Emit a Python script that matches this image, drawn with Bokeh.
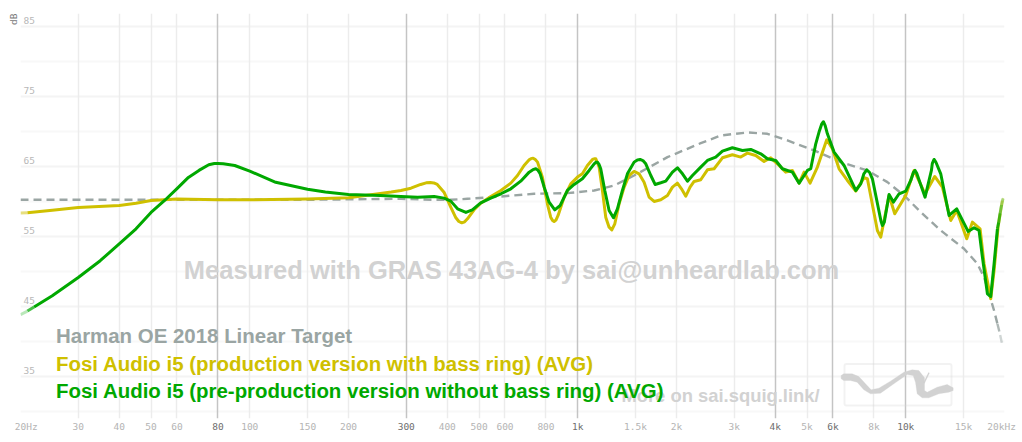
from bokeh.plotting import figure
from bokeh.models import LogAxis, FixedTicker, Grid, Label, BoxAnnotation, PolyAnnotation, Range1d, Title
from bokeh.core.properties import value
from bokeh.embed import file_html
from bokeh.resources import INLINE

# ---- data ----
target_hz = [20,40,80,150,289,365,410,461,583,736,930,1122,1291,1485,1877,2372,2729,3290,3786,4357,5253,6335,7639,8792,9882,11108,12784,15058,16535,17327,18588,19028,19400,19708]
target_db = [60.2,60.2,60.2,60.2,60.34,60.2,60.2,60.34,60.67,61.06,61.15,61.53,62.24,63.67,66.29,68.29,69.39,69.82,69.63,68.68,67.25,65.58,64.39,62.72,60.82,58.44,55.82,53.2,51.06,49.15,44.39,42.49,40.9,39.39]

yellow_hz = [20,21,25,30,40,45,50,60,80,100,150,200,250,270,289,310,332,345,355,364,373,391,410,425,434,443,452,461,483,506,543,583,625,655,686,711,720,731,742,754,780,808,827,838,847,858,871,909,952,998,1033,1070,1109,1122,1135,1162,1189,1217,1246,1270,1297,1337,1385,1434,1485,1538,1593,1650,1709,1791,1877,1944,2013,2071,2135,2200,2263,2371,2485,2604,2761,2961,3140,3290,3488,3698,3876,4061,4306,4512,4729,4897,5108,5378,5742,5975,6262,6639,7039,7463,7639,8194,8389,8894,9256,9998,10600,11452,12255,12933,13713,14302,15343,15964,16848,17327,18158,18588,19117,19400,19708,19900]
yellow_db = [58.3,58.35,58.7,59.1,59.4,59.7,60.1,60.3,60.2,60.2,60.3,60.5,61.1,61.3,61.53,61.86,62.39,62.62,62.67,62.6,62.39,61.29,59.15,57.63,57.1,56.91,57.05,57.48,58.77,59.72,60.67,61.53,62.58,63.67,65.1,65.91,66.08,66.15,65.95,65.58,63.44,59.63,57.72,57.25,57.1,57.3,57.96,60.58,62.48,63.44,63.91,65.1,65.96,66.06,66.06,64.86,61.53,57.72,56.29,55.91,56.77,59.63,62.01,63.67,64.25,63.91,62.72,60.58,59.96,60.2,60.82,62.01,62.58,61.77,60.72,62.01,62.82,63.06,64.48,64.63,66.2,66.63,66.3,66.87,66.53,65.68,66.2,65.34,64.15,64.39,62.58,64.15,62.58,64.87,68.77,67.49,64.63,62.96,61.44,63.34,63.2,55.82,54.87,60.82,58.2,60.82,64.39,61.06,63.53,62.01,57.25,58.68,54.63,57.01,56.06,51.06,46.06,50.1,56.3,58.2,60.1,60.4]

green_hz = [20,21,22,25,30,35,40,45,50,55,60,65,70,75,78,80,83,90,100,120,150,170,200,250,289,325,365,391,410,430,456,477,506,543,583,625,670,711,730,745,757,768,790,818,851,884,930,975,1033,1083,1122,1135,1148,1160,1175,1209,1246,1285,1321,1368,1417,1485,1520,1549,1580,1612,1670,1721,1791,1855,1944,2013,2086,2160,2237,2371,2485,2634,2761,2961,3177,3368,3613,3786,4014,4206,4512,4729,5013,5132,5316,5450,5540,5609,5680,5769,6046,6485,7039,7290,7450,7604,7760,7912,8400,8488,8600,8894,9169,9542,9998,10356,10550,10675,10800,11452,11973,12050,12199,12350,12783,13553,14302,15487,16154,16731,17127,17739,18158,18588,19028,19200,19400,19600,19800]
green_db = [43.8,44.3,44.9,46.5,49.1,51.5,53.9,56.05,58.4,60.1,61.8,63.4,64.4,65.2,65.38,65.4,65.35,65.1,64.3,62.7,61.7,61.3,60.95,60.8,60.67,60.58,60.67,60.44,60.01,58.91,58.39,58.77,59.77,60.44,61.06,61.77,62.86,64.15,64.5,64.63,64.4,63.91,62.01,59.86,58.77,59.39,61.53,62.39,63.2,64.39,65.34,65.55,65.58,65.3,64.63,61.53,58.67,57.63,58.91,61.53,63.91,65.58,65.9,65.96,65.8,65.34,63.67,62.39,62.63,62.86,64.15,64.77,63.91,62.86,63.67,64.87,65.82,66.3,67.15,67.63,67.25,67.39,66.77,66.06,65.82,64.63,64.15,62.58,64.39,64.63,68.2,70.0,71.0,71.35,70.8,69.63,67.01,65.1,61.53,62.48,63.9,64.48,64.1,63.2,57.2,56.53,57.0,60.96,59.87,61.06,61.44,62.96,64.1,64.39,64.0,60.58,64.39,65.4,65.96,65.6,63.91,57.96,58.91,55.68,56.2,55.82,52.01,46.77,46.39,51.06,56.06,57.0,58.3,59.5,60.4]

edge_ticks = [20,20000]
edge_labels = ["\u00a0\u00a020Hz","20kHz\u00a0"]
light_ticks = [30,40,50,60,100,150,200,400,500,600,800,1500,2000,3000,5000,8000,15000]
light_labels = ["30","40","50","60","100","150","200","400","500","600","800","1.5k","2k","3k","5k","8k","15k"]
dark_ticks = [80,300,1000,4000,6000,10000]
dark_labels = ["80","300","1k","4k","6k","10k"]
db_ticks = [35,45,55,65,75,85]
db_minor = [30,40,50,60,70,80]

legend_names = ["Harman OE 2018 Linear Target",
                "Fosi Audio i5 (production version with bass ring) (AVG)",
                "Fosi Audio i5 (pre-production version without bass ring) (AVG)"]

GREEN, YELLOW, GREY = "#00a800", "#cfc000", "#9aa5a3"
WM = "#d2d2d2"
MONO = "DejaVu Sans Mono"

p = figure(width=1022, height=442, output_backend="svg", toolbar_location=None,
           x_axis_type="log", x_axis_location=None, y_axis_location=None,
           x_range=Range1d(20, 20000), y_range=Range1d(28.96, 86.81),
           min_border_left=20, min_border_right=18, min_border_top=13, min_border_bottom=24,
           outline_line_color=None, background_fill_color="white")
p.grid.visible = False

def add_grid(dim, ticks, color, width):
    p.add_layout(Grid(dimension=dim, ticker=FixedTicker(ticks=ticks),
                      grid_line_color=color, grid_line_width=width, level="underlay"))

add_grid(1, db_ticks, "#f4f4f4", 2)
add_grid(1, db_minor, "#f8f8f8", 2)
add_grid(0, light_ticks, "#ececec", 1.5)
add_grid(0, dark_ticks, "#c4c4c4", 1.5)

def add_axis(ticks, labels, color, standoff):
    ax = LogAxis(ticker=FixedTicker(ticks=ticks),
                 major_label_overrides={t: l for t, l in zip(ticks, labels)},
                 axis_line_color=None, major_tick_line_color=None, minor_tick_line_color=None,
                 major_tick_out=0, major_tick_in=0, minor_tick_out=0, minor_tick_in=0,
                 major_label_text_color=color, major_label_text_font=MONO,
                 major_label_text_font_size="9.5px", major_label_standoff=standoff)
    p.add_layout(ax, "below")

add_axis(edge_ticks + light_ticks, edge_labels + light_labels, "#b4b4b4", 2)
add_axis(dark_ticks, dark_labels, "#6e6e6e", -14)

def label(text, x, y, size, color, bold=False, font="Liberation Sans", align="left"):
    p.add_layout(Label(x=x, y=y, x_units="canvas", y_units="canvas", text=text,
                       text_font=font, text_font_size=f"{size}px", text_color=color,
                       text_font_style="bold" if bold else "normal", text_align=align,
                       text_baseline="middle"))

# y tick labels sit inside the plot, just above their grid line
p.text(x=[20] * len(db_ticks), y=db_ticks, text=[str(d) for d in db_ticks], x_offset=3, y_offset=-2,
       text_font=value(MONO), text_font_size="9.5px", text_color="#b8b8b8",
       text_baseline="bottom", text_align="left")
p.add_layout(Title(text="dB", align="right", text_font=MONO, text_font_size="9.5px", text_color="#777777",
                   text_font_style="normal", standoff=3, offset=0), "left")

# watermark
label("Measured with GRAS 43AG-4 by sai@unheardlab.com", 511, 269.5, 25.5, WM, bold=True, align="center")
label("More on sai.squig.link/", 720, 395, 18.4, WM, bold=True, align="center")

# logo
p.add_layout(BoxAnnotation(left=844, right=951, top=363.5, bottom=405,
                           left_units="canvas", right_units="canvas", top_units="canvas", bottom_units="canvas",
                           fill_alpha=0, line_color="#d4d4d4", line_width=2, border_radius=2))
upper = [(722,105),(730,100),(755,100),(775,108),(795,130),(812,148),(835,143),(870,122),(910,95),(935,88),(955,90),(972,112),(972,150),(980,155),(1010,140),(1040,132),(1058,142)]
lower = [(1058,150),(1045,155),(1015,160),(985,172),(965,172),(950,160),(945,125),(938,105),(920,102),(880,130),(840,158),(810,160),(790,148),(770,125),(750,120),(730,120),(722,115)]
outline = upper + lower
p.add_layout(PolyAnnotation(xs=[600 + a / 3 for a, b in outline], ys=[340 + b / 3 for a, b in outline],
                            xs_units="canvas", ys_units="canvas",
                            fill_color=WM, fill_alpha=1, line_color=WM, line_width=1))
p.add_layout(PolyAnnotation(xs=[928, 929, 924, 923], ys=[372, 372.5, 383, 382],
                            xs_units="canvas", ys_units="canvas",
                            fill_color=WM, fill_alpha=1, line_color=WM, line_width=0.5))

def curve(hz, db, color, width, dash="solid", head=0, tail=3):
    end = len(hz) - tail
    p.line(hz[head:end + 1], db[head:end + 1], line_color=color, line_width=width, line_dash=dash,
           line_join="round", line_cap="butt")
    n = tail
    for i in range(n):
        j = end + i
        p.line(hz[j:j + 2], db[j:j + 2], line_color=color, line_width=width, line_dash=dash,
               line_alpha=1 - (i + 0.7) / (n + 0.2))
    for i in range(head):
        p.line(hz[i:i + 2], db[i:i + 2], line_color=color, line_width=width,
               line_alpha=(i + 0.6) / (head + 0.2))

curve(target_hz, target_db, GREY, 2.4, dash="8 5", tail=3)
curve(yellow_hz, yellow_db, YELLOW, 3, head=1, tail=4)
curve(green_hz, green_db, GREEN, 3, head=2, tail=5)

for name, y, col in zip(legend_names, [335, 362.5, 390], [GREY, YELLOW, GREEN]):
    label(name, 55.5, y, 20.44, col, bold=True)

open("out.html", "w").write(file_html(p, INLINE))
